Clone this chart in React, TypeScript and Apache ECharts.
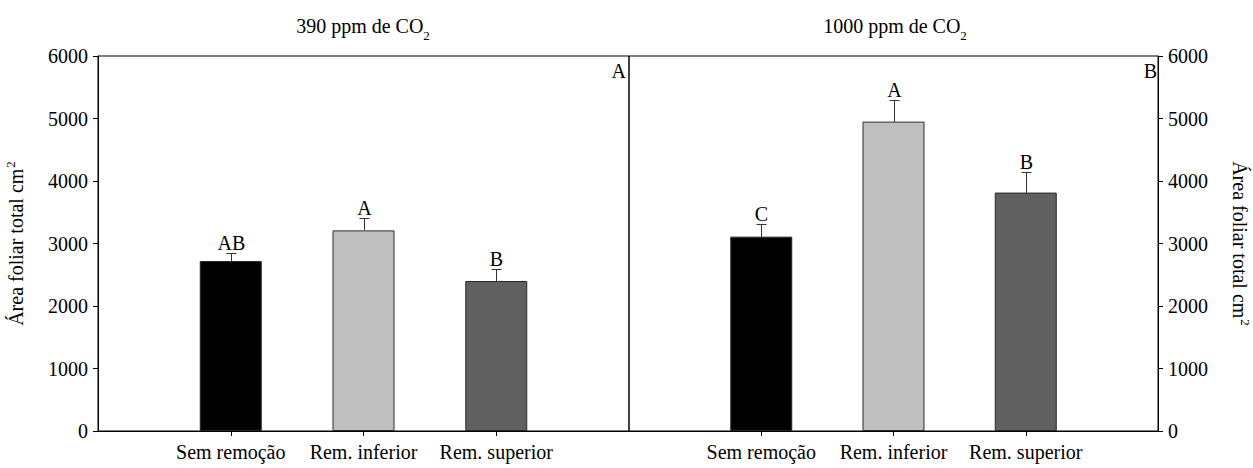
import React, { useEffect, useRef } from "react";
import * as echarts from "echarts";

// Treatments (x categories) placed at positions 1..3 of each panel
const treatments = ["Sem remoção", "Rem. inferior", "Rem. superior"];
const treatmentPos = [1, 2, 3];
const barColors = ["#000000", "#c0c0c0", "#606060"];

// 390 ppm CO2
const area390 = [2720, 3210, 2400];
const err390 = [135, 195, 200];
const letters390 = ["AB", "A", "B"];

// 1000 ppm CO2
const area1000 = [3110, 4950, 3815];
const err1000 = [205, 345, 335];
const letters1000 = ["C", "A", "B"];

const yTickStep = 1000;
const yMax = 6000;

const FONT = '"Liberation Serif", "DejaVu Serif", serif';

const App: React.FC = () => {
  const ref = useRef<HTMLDivElement>(null);

  useEffect(() => {
    if (!ref.current) return;
    const chart = echarts.init(ref.current, undefined, { renderer: "svg" });

    const panels = [
      { area: area390, err: err390, letters: letters390 },
      { area: area1000, err: err1000, letters: letters1000 },
    ];

    const yName = "{a|Área foliar total cm}{sup|2}";
    const yNameStyle = {
      color: "#000",
      fontFamily: FONT,
      rich: {
        a: { fontSize: 20, fontFamily: FONT, color: "#000", lineHeight: 24 },
        sup: { fontSize: 13, fontFamily: FONT, color: "#000", verticalAlign: "top", lineHeight: 24, padding: [0, 0, 6, 1] },
      },
    };

    const xAxisBase = (gridIndex: number) => ({
      type: "value",
      gridIndex,
      min: 0,
      max: 4,
      splitLine: { show: false },
      axisLine: { show: true, onZero: false, lineStyle: { color: "#000", width: 1 } },
      axisTick: { show: true, customValues: treatmentPos, length: 5, lineStyle: { color: "#000" } },
      axisLabel: {
        customValues: treatmentPos,
        formatter: (v: number) => treatments[Math.round(v) - 1] ?? "",
        margin: 11,
        fontSize: 20,
        fontFamily: FONT,
        color: "#000",
      },
    });

    const yAxisBase = (gridIndex: number, position: "left" | "right") => ({
      type: "value",
      gridIndex,
      position,
      min: 0,
      max: yMax,
      interval: yTickStep,
      splitLine: { show: false },
      axisLine: { show: true, onZero: false, lineStyle: { color: "#000", width: 1 } },
      axisTick: { show: true, length: 5, lineStyle: { color: "#000" } },
      axisLabel: {
        margin: 10,
        fontSize: 20,
        fontFamily: FONT,
        color: "#000",
        formatter: (v: number) => String(v),
      },
      name: yName,
      nameLocation: "middle",
      nameGap: 70,
      nameRotate: position === "left" ? 90 : -90,
      nameTextStyle: yNameStyle,
    });

    const series: any[] = [];
    panels.forEach((p, pi) => {
      series.push({
        type: "bar",
        xAxisIndex: pi,
        yAxisIndex: pi,
        barWidth: 62,
        silent: true,
        itemStyle: { borderColor: "#2a2a2a", borderWidth: 1 },
        data: p.area.map((v, i) => ({
          value: [treatmentPos[i], v],
          itemStyle: { color: barColors[i] },
        })),
      });
      series.push({
        type: "custom",
        xAxisIndex: pi,
        yAxisIndex: pi,
        silent: true,
        z: 5,
        data: p.area.map((v, i) => [treatmentPos[i], v, p.err[i]]),
        renderItem: (params: any, api: any) => {
          const x = api.value(0);
          const v = api.value(1);
          const e = api.value(2);
          const top = api.coord([x, v]);
          const cap = api.coord([x, v + e]);
          const cx = Math.round(cap[0]) + 0.5;
          const cy = Math.round(cap[1]) + 0.5;
          const ty = Math.round(top[1]);
          const stroke = { stroke: "#333", lineWidth: 1 };
          return {
            type: "group",
            children: [
              { type: "line", shape: { x1: cx, y1: ty, x2: cx, y2: cy }, style: stroke },
              { type: "line", shape: { x1: cx - 5, y1: cy, x2: cx + 5, y2: cy }, style: stroke },
              {
                type: "text",
                x: cx,
                y: cy - 1,
                style: {
                  text: p.letters[params.dataIndex],
                  fill: "#000",
                  fontSize: 20,
                  fontFamily: FONT,
                  align: "center",
                  verticalAlign: "bottom",
                },
              },
            ],
          };
        },
      });
    });

    const titleRich = {
      t: { fontSize: 20, fontFamily: FONT, color: "#000", lineHeight: 24 },
      s: { fontSize: 13, fontFamily: FONT, color: "#000", verticalAlign: "bottom", lineHeight: 24, padding: [0, 0, -4, 0] },
    };

    chart.setOption({
      animation: false,
      backgroundColor: "#fff",
      textStyle: { fontFamily: FONT },
      grid: [
        { left: 98, right: 624, top: 56, bottom: 37, show: true, borderColor: "#000", borderWidth: 1, backgroundColor: "transparent" },
        { left: 629, right: 92, top: 56, bottom: 37, show: true, borderColor: "#000", borderWidth: 1, backgroundColor: "transparent" },
      ],
      xAxis: [xAxisBase(0), xAxisBase(1)],
      yAxis: [yAxisBase(0, "left"), yAxisBase(1, "right")],
      series,
      graphic: [
        {
          type: "text",
          x: 363,
          y: 26,
          style: { text: "{t|390 ppm de CO}{s|2}", rich: titleRich, align: "center", verticalAlign: "middle" },
        },
        {
          type: "text",
          x: 895,
          y: 26,
          style: { text: "{t|1000 ppm de CO}{s|2}", rich: titleRich, align: "center", verticalAlign: "middle" },
        },
        {
          type: "text",
          x: 626,
          y: 71,
          style: { text: "A", fill: "#000", fontSize: 20, fontFamily: FONT, align: "right", verticalAlign: "middle" },
        },
        {
          type: "text",
          x: 1157,
          y: 71,
          style: { text: "B", fill: "#000", fontSize: 20, fontFamily: FONT, align: "right", verticalAlign: "middle" },
        },
      ],
    });

    return () => chart.dispose();
  }, []);

  return (
    <div
      ref={ref}
      style={{ position: "fixed", left: 0, top: 0, width: 1253, height: 468 }}
    />
  );
};

export default App;
